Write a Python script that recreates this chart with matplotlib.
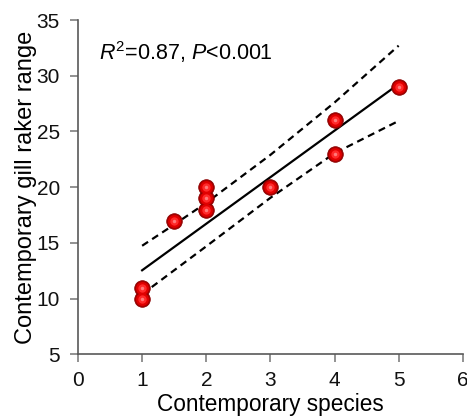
import matplotlib
matplotlib.use("Agg")
import matplotlib.pyplot as plt

# data
species = [1, 1, 1.5, 2, 2, 2, 3, 4, 4, 5]
gill_range = [10, 11, 17, 18, 19, 20, 20, 23, 26, 29]

fit_x = [1, 5]
fit_y = [12.55, 29.25]

band_x = [1, 1.5, 2, 3, 4, 5]
band_upper = [14.75, 16.65, 18.6, 22.9, 27.6, 32.7]
band_lower = [10.4, 12.55, 14.7, 19.05, 23.05, 25.95]

x_ticks = [0, 1, 2, 3, 4, 5, 6]
y_ticks = [5, 10, 15, 20, 25, 30, 35]

plt.rcParams['font.family'] = ['Liberation Sans', 'DejaVu Sans']
plt.rcParams['mathtext.fontset'] = 'custom'
plt.rcParams['mathtext.it'] = 'Liberation Sans:italic'
plt.rcParams['mathtext.rm'] = 'Liberation Sans'

fig = plt.figure(figsize=(4.67, 4.17), dpi=100)
ax = fig.add_axes([0.167, 0.150, 0.824, 0.802])

ax.plot(band_x, band_upper, color='black', lw=1.6, ls=(0, (3.2, 2.2)), zorder=2)
ax.plot(band_x, band_lower, color='black', lw=1.6, ls=(0, (3.2, 2.2)), zorder=2)
ax.plot(fit_x, fit_y, color='black', lw=1.6, zorder=2)

# sphere-like markers
ax.plot(species, gill_range, 'o', ms=11.2, mfc='#a80000', mec='#8a0000', mew=0.6, zorder=3)
ax.plot(species, gill_range, 'o', ms=9.2, mfc='#e00000', mec='none', zorder=4)
ax.plot(species, gill_range, 'o', ms=6, mfc='#ff2a2a', mec='none', zorder=5)
ax.plot(species, gill_range, 'o', ms=2.5, mfc='#ff7a7a', mec='none', zorder=6)

ax.set_xlim(0, 6)
ax.set_ylim(5, 35)
ax.set_xticks(x_ticks)
ax.set_yticks(y_ticks)
ax.set_xticklabels([str(v) for v in x_ticks])
ax.set_yticklabels([str(v) for v in y_ticks])

for s in ['top', 'right']:
    ax.spines[s].set_visible(False)
for s in ['left', 'bottom']:
    ax.spines[s].set_color('#595959')
    ax.spines[s].set_linewidth(1.2)
ax.tick_params(axis='both', direction='out', length=6, width=1.2, color='#7f7f7f',
               labelsize=15, labelcolor='#111111')
ax.tick_params(axis='y', pad=7)
ax.tick_params(axis='x', pad=6)

ax.set_xlabel('Contemporary species', fontsize=16.3)
ax.set_ylabel('Contemporary gill raker range', fontsize=17)
ax.xaxis.label.set_va('center')
ax.xaxis.set_label_coords(0.5, -0.15)
ax.yaxis.label.set_va('center')
ax.yaxis.set_label_coords(-0.136, 0.5)

ax.text(0.055, 0.905, r'$\mathit{R}^{2}$=0.87, $\mathit{P}$<0.001', transform=ax.transAxes,
        fontsize=15.5, ha='left', va='center')

fig.savefig('out.png', dpi=100)
